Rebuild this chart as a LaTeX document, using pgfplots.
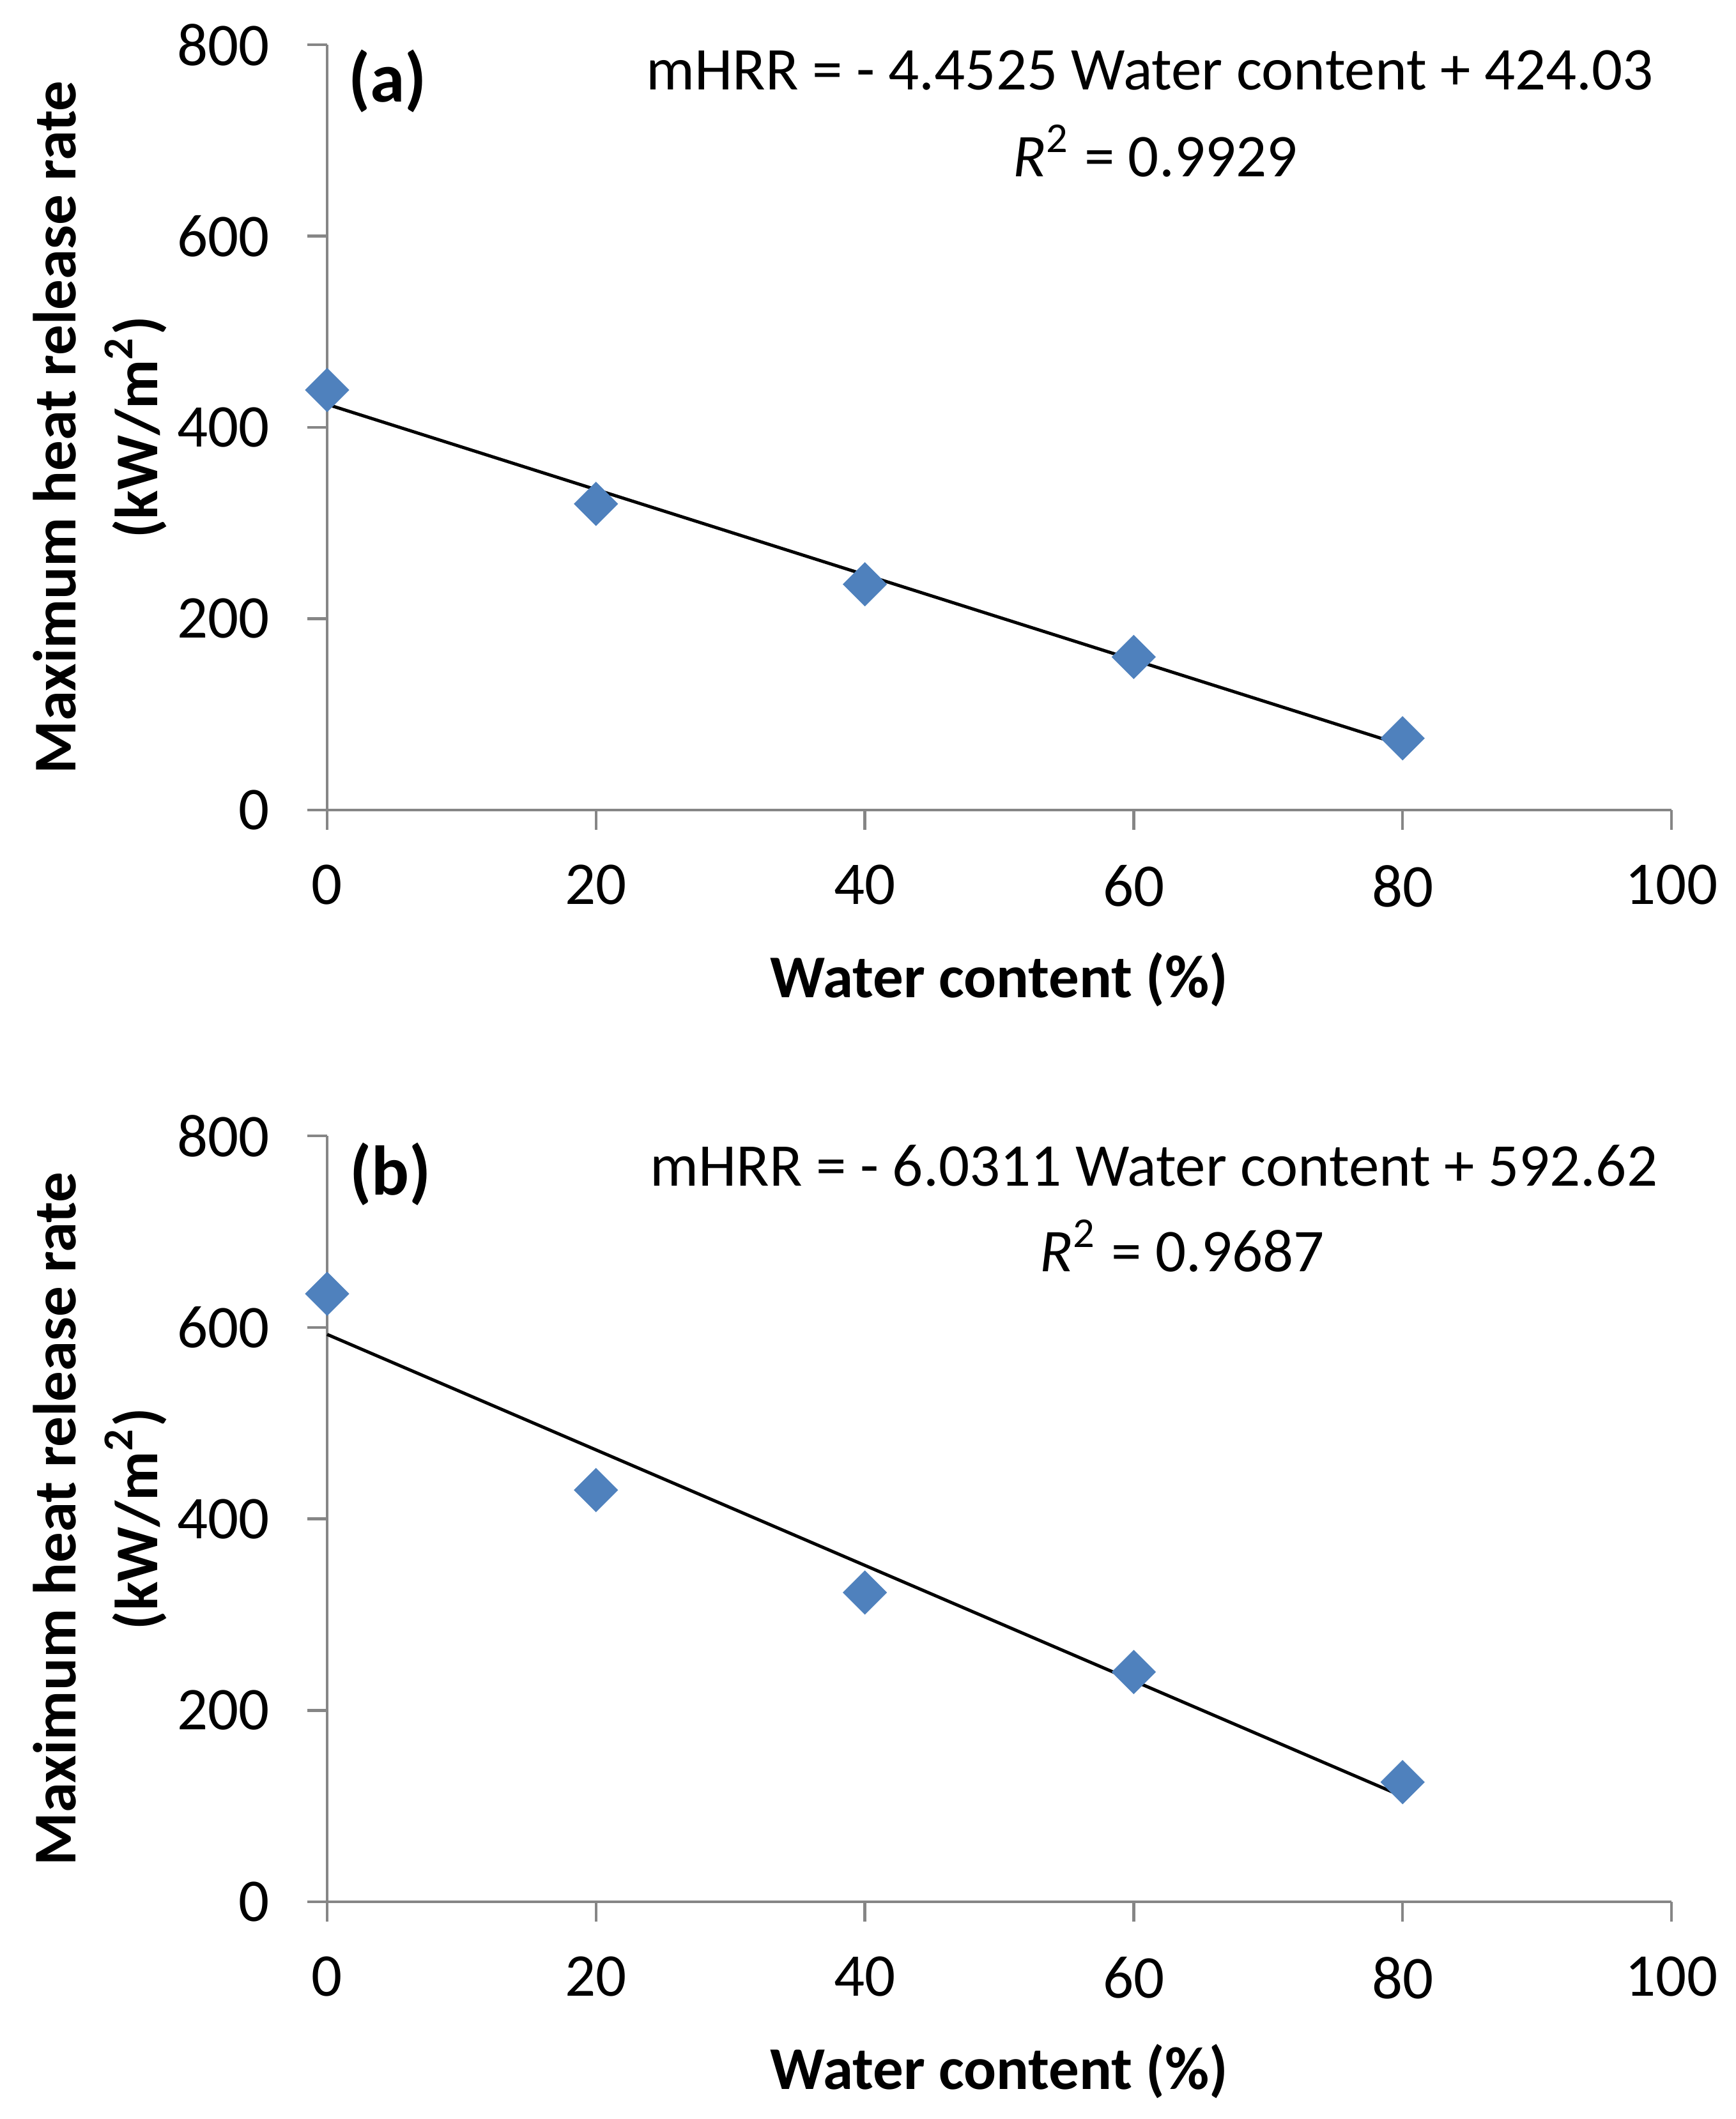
\documentclass[border=0pt]{standalone}
\usepackage{fontspec}
\setmainfont{Carlito}
\usepackage{pgfplots}
\pgfplotsset{compat=1.18}
\definecolor{axgray}{HTML}{868686}
\definecolor{mblue}{HTML}{4F81BD}
\newcommand{\fs}{\fontsize{9.5}{12.8}\selectfont}
\pgfplotsset{
  panel/.style={
    scale only axis, width=210.4pt,
    xmin=0, xmax=100, ymin=0, ymax=800,
    xtick={0,20,...,100}, ytick={0,200,...,800},
    axis x line*=bottom, axis y line*=left,
    axis line style={axgray, line width=0.45pt},
    every tick/.style={axgray, line width=0.45pt},
    tick align=outside, major tick length=3.1pt,
    clip=false,
    /pgf/number format/assume math mode=true,
    ticklabel style={font=\fs, text=black},
    xticklabel style={yshift=-2pt},
    yticklabel style={xshift=-2.4pt},
    xlabel={Water content (\%)},
    xlabel style={font=\bfseries\fs, at={([yshift=-26.5pt]axis description cs:0.5,0)}, anchor=center},
    ylabel={Maximum heat release rate\\(kW/m\textsuperscript{2})},
    ylabel style={font=\bfseries\fs, align=center, at={([xshift=-35.6pt]axis description cs:0,0.5)}, anchor=center},
  }
}
\begin{document}
\begin{tikzpicture}
\path[use as bounding box] (0,0) rectangle (271.6pt,331.7pt);
% Panel (a)
\begin{axis}[panel, height=119.8pt, at={(51.2pt,204.9pt)}, anchor=south west]
\addplot[only marks, mark=square*, mark size=2.25pt, mark options={rotate=45, fill=mblue, draw=mblue}]
  coordinates {(0,439) (20,320) (40,236) (60,160) (80,75)};
\addplot[black, line width=0.5pt, no marks] coordinates {(0,424.03) (80,67.83)};
\node[font=\bfseries\fontsize{11}{13}\selectfont] at (axis cs:4.5,762) {(a)};
\node[font=\fs] at (axis cs:61.2,773) {mHRR = - 4.4525 Water content + 424.03};
\node[font=\fs] at (axis cs:61.6,689) {\textit{R}\textsuperscript{2} = 0.9929};
\end{axis}
% Panel (b)
\begin{axis}[panel, height=119.9pt, at={(51.2pt,34pt)}, anchor=south west]
\addplot[only marks, mark=square*, mark size=2.25pt, mark options={rotate=45, fill=mblue, draw=mblue}]
  coordinates {(0,635) (20,430) (40,323) (60,240) (80,125)};
\addplot[black, line width=0.5pt, no marks] coordinates {(0,592.62) (80,110.13)};
\node[font=\bfseries\fontsize{11}{13}\selectfont] at (axis cs:4.7,760) {(b)};
\node[font=\fs] at (axis cs:61.5,769) {mHRR = - 6.0311 Water content + 592.62};
\node[font=\fs] at (axis cs:63.6,685) {\textit{R}\textsuperscript{2} = 0.9687};
\end{axis}
\end{tikzpicture}
\end{document}
